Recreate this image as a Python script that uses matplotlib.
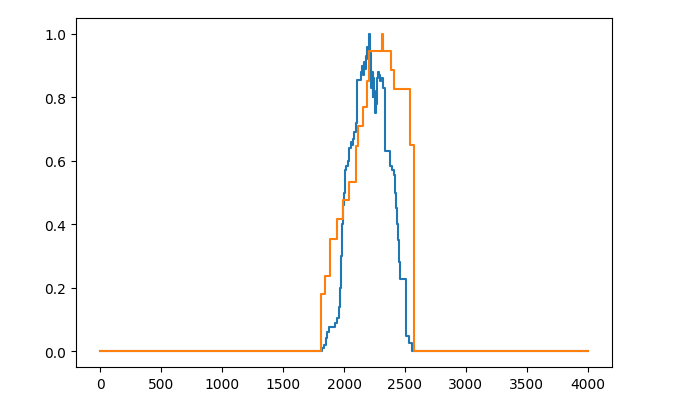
import matplotlib
matplotlib.use("Agg")
import matplotlib.pyplot as plt

# Step breakpoints (x where the value starts, value)
blue_x = [0, 1822, 1835, 1850, 1862, 1878, 1925, 1940, 1955, 1968, 1975, 1982,
          1990, 2000, 2010, 2020, 2034, 2045, 2055, 2065, 2075, 2085, 2097, 2108,
          2143, 2150, 2158, 2165, 2172, 2180, 2188, 2195, 2203, 2208, 2214, 2218,
          2223, 2228, 2234, 2240, 2246, 2252, 2258, 2263, 2268, 2275, 2285, 2295,
          2305, 2318, 2333, 2379, 2395, 2407, 2420, 2428, 2435, 2442, 2450, 2460,
          2505, 2508, 2511, 2533, 2555, 3999]
blue_y = [0.0, 0.01, 0.02, 0.04, 0.06, 0.075, 0.09, 0.105, 0.14, 0.2, 0.3, 0.4,
          0.46, 0.5, 0.57, 0.585, 0.6, 0.64, 0.66, 0.65, 0.67, 0.69, 0.72, 0.855,
          0.88, 0.9, 0.87, 0.91, 0.89, 0.93, 0.96, 0.92, 0.97, 1.0, 0.94, 0.86,
          0.83, 0.88, 0.8, 0.86, 0.82, 0.77, 0.75, 0.78, 0.86, 0.88, 0.87, 0.85,
          0.86, 0.83, 0.632, 0.585, 0.57, 0.555, 0.5, 0.45, 0.4, 0.35, 0.28, 0.227,
          0.205, 0.12, 0.048, 0.025, 0.0, 0.0]

orange_x = [0, 1815, 1840, 1886, 1940, 1993, 2039, 2096, 2117, 2153, 2185, 2209,
            2312, 2322, 2384, 2413, 2544, 2572, 3999]
orange_y = [0.0, 0.18, 0.237, 0.355, 0.415, 0.475, 0.533, 0.646, 0.71, 0.77, 0.85,
            0.945, 1.0, 0.945, 0.885, 0.826, 0.65, 0.0, 0.0]

fig = plt.figure(figsize=(6.8, 4.1), dpi=100)
ax = fig.add_axes([76 / 680, 42 / 410, 536 / 680, 349 / 410])

ax.plot(blue_x, blue_y, drawstyle="steps-post", color="#1f77b4", linewidth=1.5)
ax.plot(orange_x, orange_y, drawstyle="steps-post", color="#ff7f0e", linewidth=1.5)

ax.set_xlim(-200, 4200)
ax.set_ylim(-0.05, 1.05)
ax.set_xticks([0, 500, 1000, 1500, 2000, 2500, 3000, 3500, 4000])
ax.set_yticks([0.0, 0.2, 0.4, 0.6, 0.8, 1.0])

fig.savefig("out.png", dpi=100)
